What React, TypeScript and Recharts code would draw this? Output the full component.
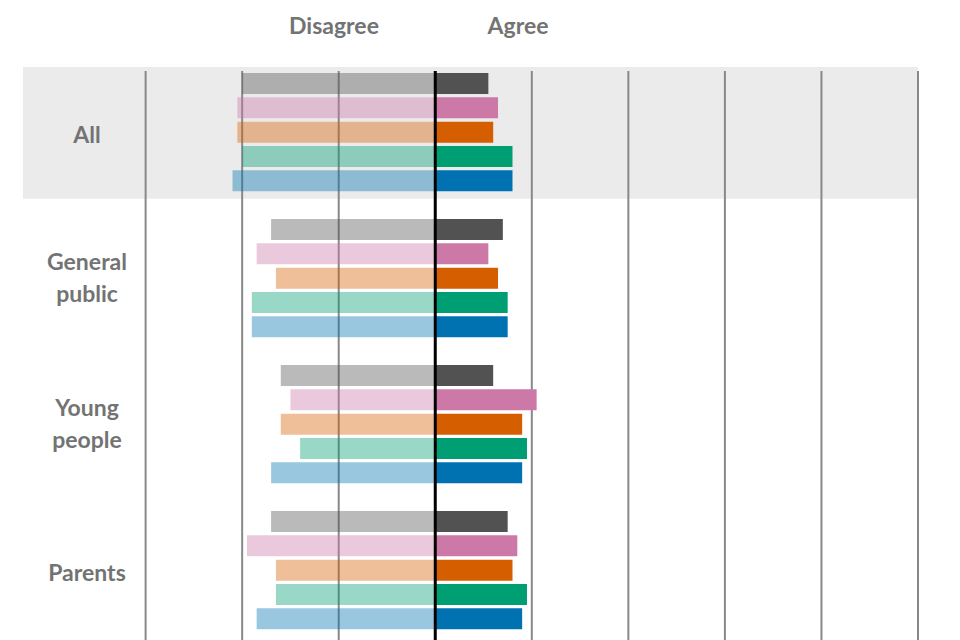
import React from "react";
import {
  BarChart,
  Bar,
  Cell,
  XAxis,
  YAxis,
  ReferenceArea,
  ReferenceLine,
} from "recharts";

// groups shown on the left, top to bottom
const groups = ["All", "General public", "Young people", "Parents"];
// five series per group, dark shade used for agree, same shade faded for disagree
const seriesColors = ["#525252", "#cc79a7", "#d55e00", "#009e73", "#0072b2"];

const allDisagree = [20, 20.5, 20.5, 20, 21];
const allAgree = [5.5, 6.5, 6, 8, 8];
const publicDisagree = [17, 18.5, 16.5, 19, 19];
const publicAgree = [7, 5.5, 6.5, 7.5, 7.5];
const youngDisagree = [16, 15, 16, 14, 17];
const youngAgree = [6, 10.5, 9, 9.5, 9];
const parentsDisagree = [17, 19.5, 16.5, 16.5, 18.5];
const parentsAgree = [7.5, 8.5, 8, 9.5, 9];

const disagreeByGroup = [allDisagree, publicDisagree, youngDisagree, parentsDisagree];
const agreeByGroup = [allAgree, publicAgree, youngAgree, parentsAgree];

const gridTicks = [-30, -20, -10, 10, 20, 30, 40, 50];

// one row per bar, plus an empty row after every group
const rows: any[] = [];
groups.forEach((g, gi) => {
  seriesColors.forEach((c, si) => {
    rows.push({
      id: g + "-" + si,
      group: g,
      idx: si,
      color: c,
      disagree: -disagreeByGroup[gi][si],
      agree: agreeByGroup[gi][si],
    });
  });
  rows.push({ id: g + "-gap", group: g, idx: 5, color: "#fff", disagree: null, agree: null });
});

const FONT = "Lato, 'Open Sans', sans-serif";
const TEXT_COLOR = "#737373";

const GroupTick = (props: any) => {
  const { y, payload } = props;
  const row = rows.find((r) => r.id === payload.value);
  if (!row || row.idx !== 2) return <g />;
  const lines = row.group === "All" || row.group === "Parents" ? [row.group] : row.group.split(" ");
  return (
    <text
      x={87}
      y={y}
      textAnchor="middle"
      fill={TEXT_COLOR}
      fontFamily={FONT}
      fontWeight={700}
      fontSize={23}
    >
      {lines.length === 1 ? (
        <tspan x={87} dy={11}>{lines[0]}</tspan>
      ) : (
        lines.map((l: string, i: number) => (
          <tspan key={l} x={87} dy={i === 0 ? -8 : 32}>
            {l}
          </tspan>
        ))
      )}
    </text>
  );
};

const Band = (p: any) => (
  <rect x={p.x} y={p.y - 4} width={p.width} height={p.height + 10} fill="#ebebeb" />
);

export default function App() {
  return (
    <div
      style={{
        position: "absolute",
        left: 0,
        top: 0,
        width: 960,
        height: 640,
        overflow: "hidden",
        background: "#fff",
      }}
    >
      <div
        style={{
          position: "absolute",
          top: 11,
          left: 0,
          width: 960,
          fontFamily: FONT,
          fontWeight: 700,
          fontSize: 23,
          color: TEXT_COLOR,
        }}
      >
        <span style={{ position: "absolute", left: 334, transform: "translateX(-50%)" }}>Disagree</span>
        <span style={{ position: "absolute", left: 518, transform: "translateX(-50%)" }}>Agree</span>
      </div>
      <BarChart
        width={960}
        height={660}
        data={rows}
        layout="vertical"
        stackOffset="sign"
        barSize={21}
        margin={{ top: 71, right: 42, bottom: 5, left: 22 }}
      >
        <ReferenceArea
          y1="All-0"
          y2="All-4"
          shape={Band}
          ifOverflow="visible"
          zIndex={-300}
        />
        {gridTicks.map((t) => (
          <ReferenceLine key={t} x={t} stroke="#888888" strokeWidth={2} zIndex={-200} />
        ))}
        <XAxis
          type="number"
          domain={[-42.7, 50]}
          allowDataOverflow
          tick={false}
          tickLine={false}
          axisLine={false}
          height={0}
        />
        <YAxis
          type="category"
          dataKey="id"
          width={1}
          interval={0}
          axisLine={false}
          tickLine={false}
          tick={(p: any) => <GroupTick {...p} />}
        />
        <Bar dataKey="disagree" stackId="a" isAnimationActive={false}>
          {rows.map((r) => (
            <Cell key={r.id} fill={r.color} fillOpacity={0.4} />
          ))}
        </Bar>
        <Bar dataKey="agree" stackId="a" isAnimationActive={false}>
          {rows.map((r) => (
            <Cell key={r.id} fill={r.color} />
          ))}
        </Bar>
        <ReferenceLine x={0} stroke="#000" strokeWidth={3} />
      </BarChart>
    </div>
  );
}
